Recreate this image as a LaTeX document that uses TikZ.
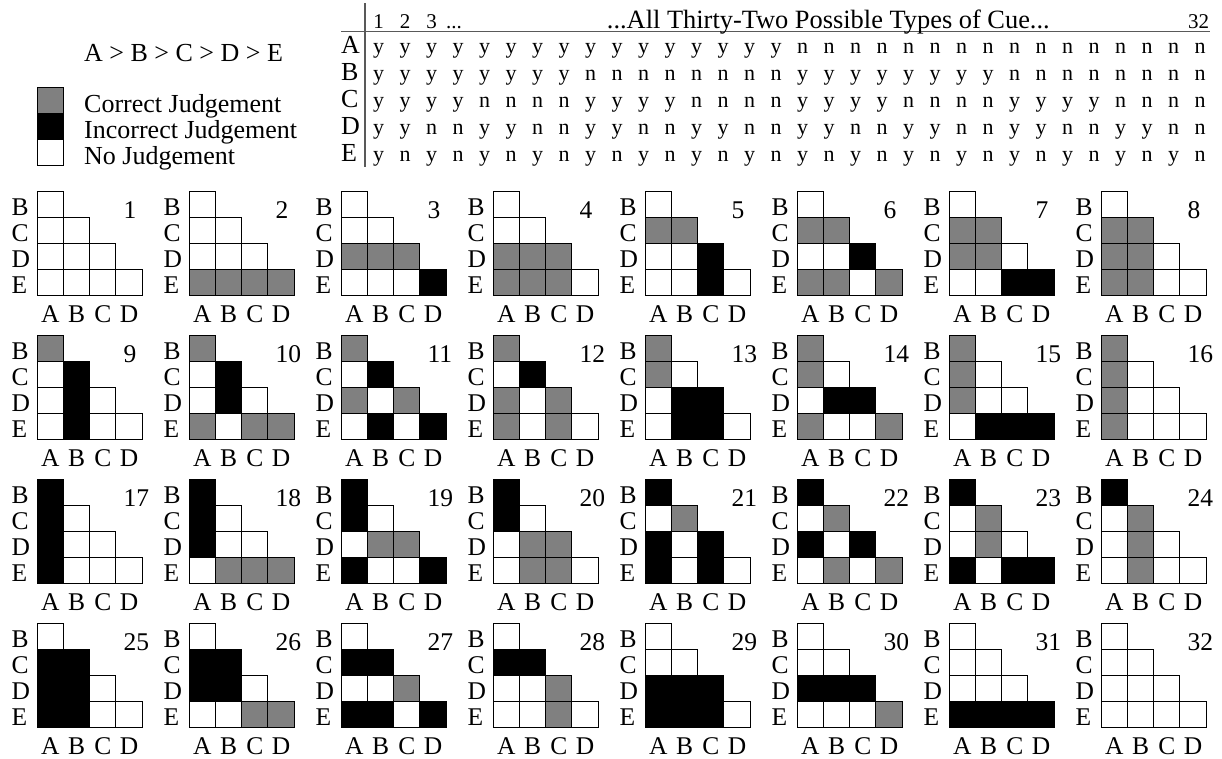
\documentclass[tikz,border=0pt]{standalone}
\usepackage{fontspec}
\setmainfont{Liberation Serif}
\usetikzlibrary{positioning}

\colorlet{jd0}{white} % no judgement
\colorlet{jd1}{gray}  % correct judgement
\colorlet{jd2}{black} % incorrect judgement
\newcommand{\fsz}[1]{\fontsize{#1}{#1}\selectfont}

\begin{document}
\begin{tikzpicture}[x=1pt, y=-1pt,
    cell/.style={draw=black, line width=0.9pt},
    rule/.style={draw=black!65, line width=1.4pt},
    lbl/.style={inner sep=0pt, anchor=base, font=\fsz{25.5}},
    tab/.style={inner sep=0pt, anchor=base, font=\fsz{22}},
    txt/.style={inner sep=0pt, anchor=base west, font=\fsz{26}}]
    \useasboundingbox (0,0) rectangle (1222,758);

    % ordering and legend
    \node[txt] (order) at (84,61.5) {A > B > C > D > E};
    \foreach \c/\t [count=\i from 0] in {jd1/Correct Judgement, jd2/Incorrect Judgement, jd0/No Judgement}{
        \draw[cell, fill=\c] (37.3,87.3+26*\i) rectangle ++(26.3,26);
        \node[txt] (leg\i) at (84,112.5+26*\i) {\t};
    }

    % table of cues
    \draw[rule] (365,3) -- (365,167);
    \draw[rule] (341,31.5) -- (1210,31.5);
    \foreach \k in {1,2,3}
        \node[tab, font=\fsz{21}] (head\k) at ({378.5+26.5*(\k-1)},28) {\k};
    \node[tab, anchor=base west, font=\fsz{21}] (headdots) at (446,28) {...};
    \node[txt, font=\fsz{26.4}] (title) at (606.7,28) {...All Thirty-Two Possible Types of Cue...};
    \node[tab, font=\fsz{21}] (head32) at (1198.7,28) {32};
    \foreach \r [count=\m from 0] in {A,B,C,D,E}{
        \node[txt] (row\r) at (341,53.5+27*\m) {\r};
        \foreach \k in {0,...,31}{
            \pgfmathtruncatemacro{\b}{mod(div(\k,2^(4-\m)),2)}
            \node[tab] (cue\r\k) at (378.5+26.5*\k,53.5+27*\m) {\ifnum\b=0 y\else n\fi};
        }
    }

    % the thirty-two grids
    \foreach \n in {0,...,31}{
        \pgfmathsetmacro{\gx}{37.3+152*mod(\n,8)}
        \pgfmathsetmacro{\gy}{191+144*div(\n,8)}
        \foreach \j in {0,...,3}{
            \foreach \k in {\j,...,3}{
                \pgfmathtruncatemacro{\bc}{mod(div(\n,2^(4-\j)),2)}
                \pgfmathtruncatemacro{\br}{mod(div(\n,2^(3-\k)),2)}
                \pgfmathtruncatemacro{\jd}{\bc==\br ? 0 : (\bc==0 ? 1 : 2)}
                \draw[cell, fill=jd\jd] (\gx+26.2*\j,\gy+26.2*\k) rectangle ++(26.2,26.2);
            }
        }
        \foreach \r [count=\k from 0] in {B,C,D,E}
            \node[lbl, anchor=base west] (g\n-r\r) at (\gx-25.8,\gy+26.2*\k+24) {\r};
        \foreach \c [count=\j from 0] in {A,B,C,D}
            \node[lbl] (g\n-c\c) at (\gx+26.2*\j+13.1,\gy+131) {\c};
        \pgfmathtruncatemacro{\num}{\n+1}
        \node[lbl, anchor=base west] (g\n-num) at (\gx+86,\gy+27) {\num};
    }
\end{tikzpicture}
\end{document}
